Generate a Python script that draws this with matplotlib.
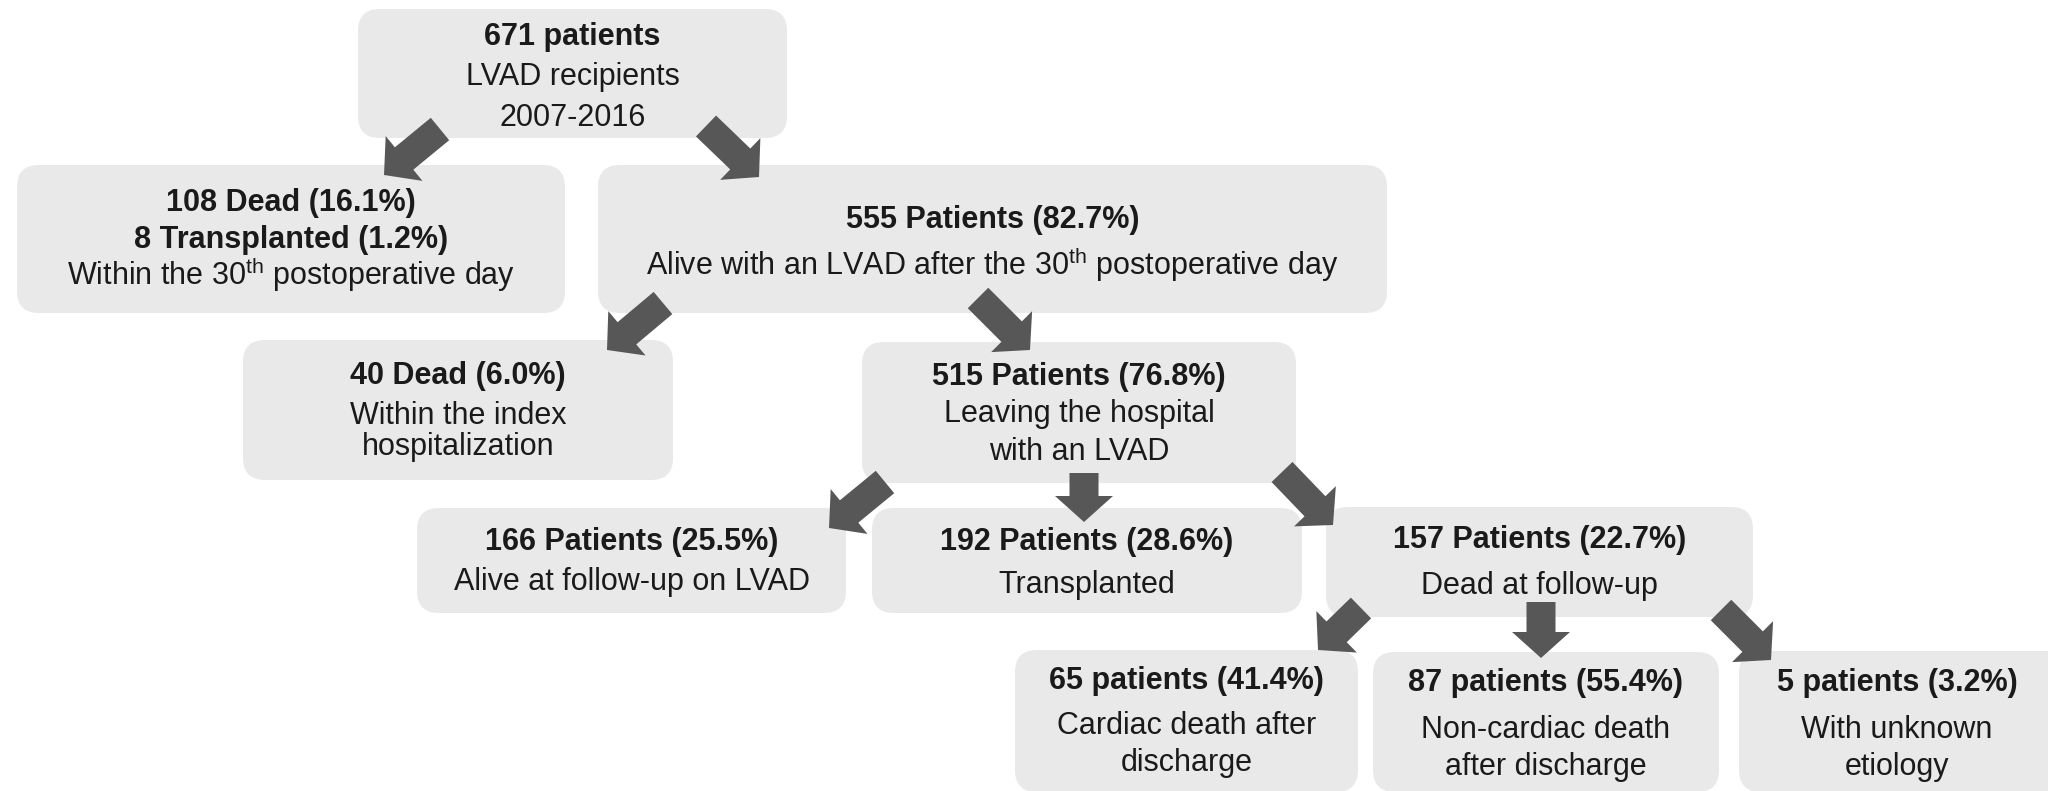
import matplotlib.pyplot as plt
from matplotlib.patches import FancyBboxPatch, FancyArrow

plt.rcParams['font.family'] = ['Liberation Sans', 'DejaVu Sans']
plt.rcParams['mathtext.fontset'] = 'custom'
plt.rcParams['mathtext.rm'] = 'Liberation Sans'

# numbers in each box of the flow chart
counts = [671, 108, 555, 40, 515, 166, 192, 157, 65, 87, 5]
shares = [None, 16.1, 82.7, 6.0, 76.8, 25.5, 28.6, 22.7, 41.4, 55.4, 3.2]
nouns = ["patients", "Dead", "Patients", "Dead", "Patients", "Patients",
         "Patients", "Patients", "patients", "patients", "patients"]
early_tx = 8
early_tx_share = 1.2
notes = [
    ["LVAD recipients", "2007-2016"],
    ["Within the 30$^{\\mathrm{th}}$ postoperative day"],
    ["Alive with an LVAD after the 30$^{\\mathrm{th}}$ postoperative day"],
    ["Within the index", "hospitalization"],
    ["Leaving the hospital", "with an LVAD"],
    ["Alive at follow-up on LVAD"],
    ["Transplanted"],
    ["Dead at follow-up"],
    ["Cardiac death after", "discharge"],
    ["Non-cardiac death", "after discharge"],
    ["With unknown", "etiology"],
]

# box outlines in pixels (x0, y0, x1, y1) and y of every text line
boxes = [
    (358, 9, 787, 138), (17, 165, 565, 313), (598, 165, 1387, 313),
    (243, 340, 673, 480), (862, 342, 1296, 483), (417, 508, 846, 613),
    (872, 508, 1302, 613), (1326, 507, 1753, 617), (1015, 650, 1358, 792),
    (1373, 652, 1719, 792), (1739, 651, 2070, 792),
]
line_y = [
    [37, 77, 118], [203, 240, 274], [220, 265], [376, 416, 447],
    [377, 414, 452], [542, 582], [542, 585], [540, 586],
    [681, 726, 763], [683, 730, 767], [683, 730, 767],
]
text_x = [None] * 10 + [1897]

# arrows: tail -> tip
arrows = [
    ((440, 129), (384, 175)), ((706, 126), (759, 177)),
    ((663, 303), (607, 350)), ((978, 298), (1030, 350)),
    ((885, 482), (829, 528)), ((1084, 473), (1084, 522)),
    ((1282, 472), (1333, 525)), ((1361, 608), (1318, 650)),
    ((1541, 602), (1541, 658)), ((1721, 610), (1771, 660)),
]

fig = plt.figure(figsize=(20.48, 7.91), dpi=100)
ax = fig.add_axes([0, 0, 1, 1])
ax.set_xlim(0, 2048)
ax.set_ylim(791, 0)
ax.axis('off')

fs = 22
for i, (x0, y0, x1, y1) in enumerate(boxes):
    ax.add_patch(FancyBboxPatch((x0, y0), x1 - x0, y1 - y0,
                                boxstyle="round,pad=0,rounding_size=22",
                                fc='#e9e9e9', ec='none', zorder=1))
    cx = text_x[i] if text_x[i] else (x0 + x1) / 2
    title = f"{counts[i]} {nouns[i]}"
    if shares[i] is not None:
        title += f" ({shares[i]:.1f}%)"
    bold = [title]
    if i == 1:
        bold.append(f"{early_tx} Transplanted ({early_tx_share:.1f}%)")
    lines = bold + notes[i]
    for j, (txt, y) in enumerate(zip(lines, line_y[i])):
        ax.text(cx, y, txt, ha='center', va='center', fontsize=fs,
                fontweight='bold' if j < len(bold) else 'normal',
                color='#1a1a1a', zorder=3)

for (x0, y0), (x1, y1) in arrows:
    ax.add_patch(FancyArrow(x0, y0, x1 - x0, y1 - y0, width=29,
                            head_width=58, head_length=26,
                            length_includes_head=True,
                            fc='#575757', ec='none', zorder=2))

fig.savefig('out.png', dpi=100, facecolor='white')
